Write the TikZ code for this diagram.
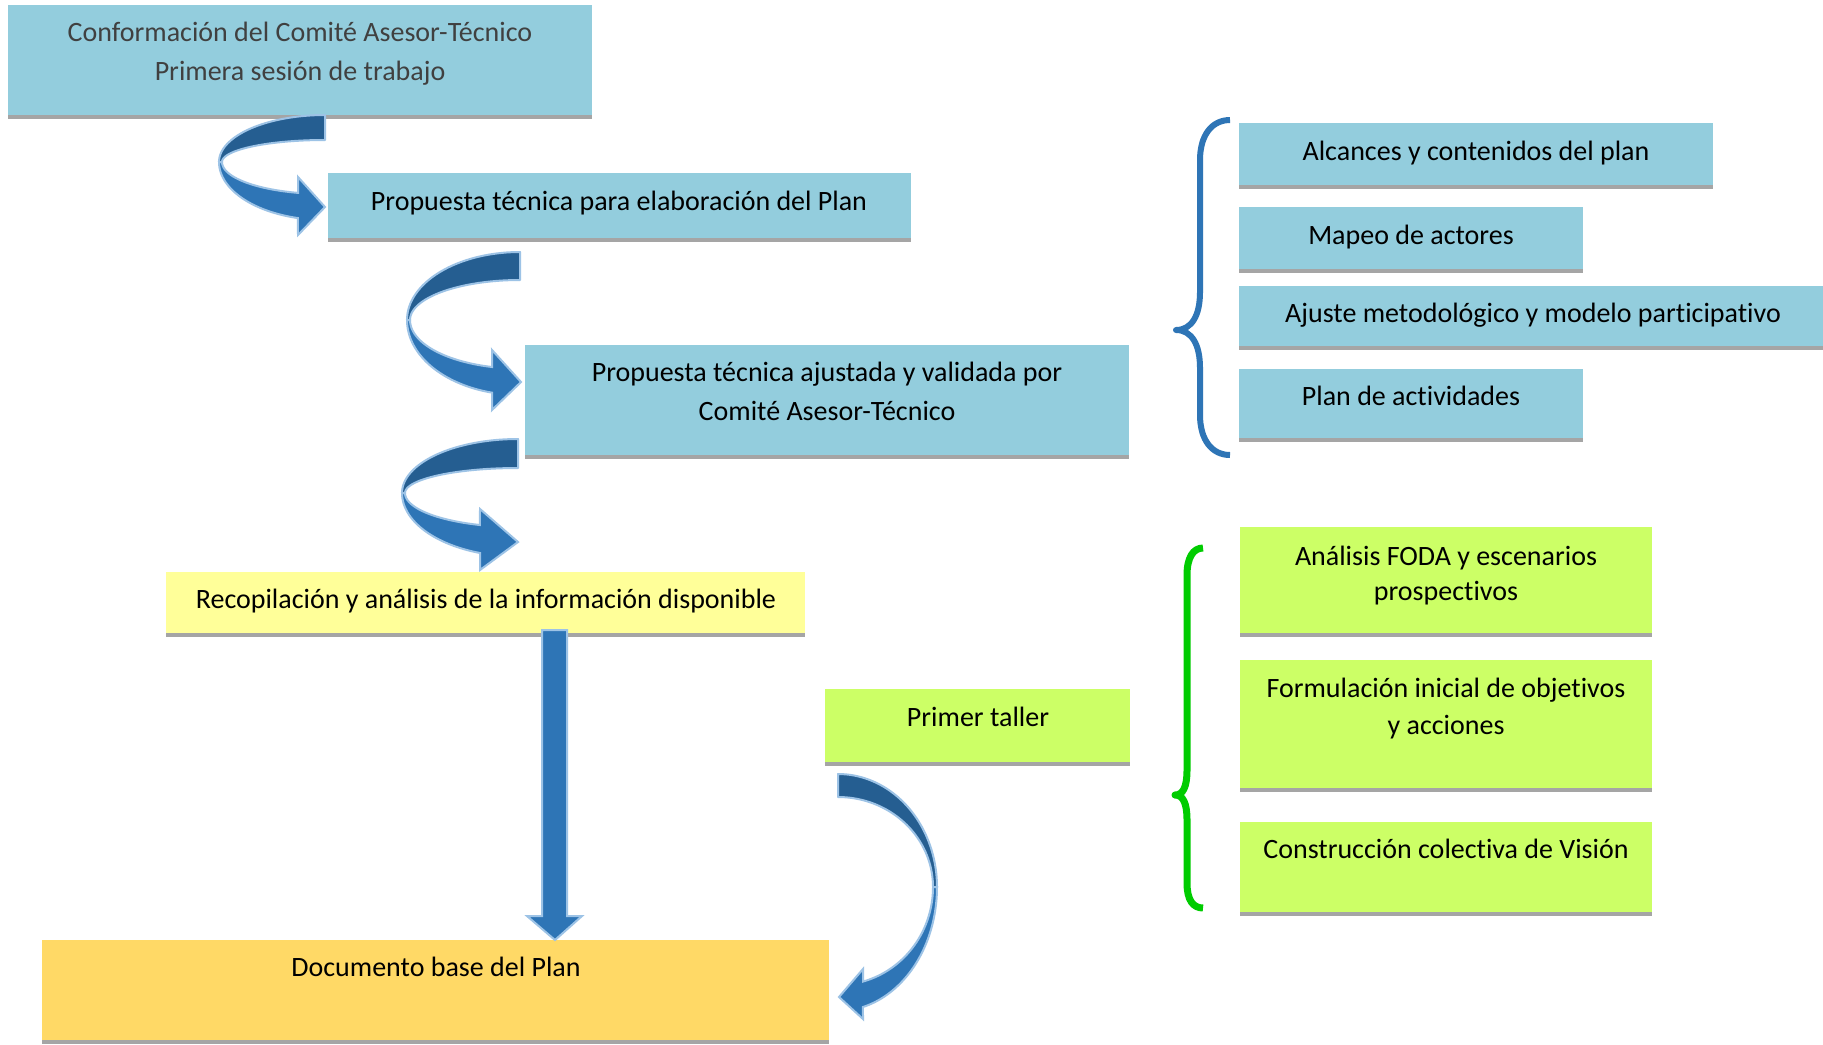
\documentclass[tikz,border=0pt]{standalone}
\usepackage{fontspec}
\setmainfont{Carlito}[Ligatures={NoCommon}]
\definecolor{boxblue}{HTML}{93CDDD}
\definecolor{boxyellow}{HTML}{FFFF99}
\definecolor{boxorange}{HTML}{FFD966}
\definecolor{boxgreen}{HTML}{CCFF66}
\definecolor{barcol}{HTML}{A5A5A5}
\definecolor{arrdark}{HTML}{255E91}
\definecolor{arrlight}{HTML}{2E75B6}
\definecolor{arrline}{HTML}{9DC3E6}
\definecolor{braceblue}{HTML}{2E75B6}
\definecolor{bracegreen}{HTML}{00CC00}
\definecolor{txtgray}{HTML}{404040}
\begin{document}
\begin{tikzpicture}[x=0.5pt,y=-0.5pt,
  box/.style={inner sep=0pt, outer sep=0pt, anchor=north west,
    path picture={\fill[barcol] ([yshift=2.25pt]path picture bounding box.south west) rectangle (path picture bounding box.south east);}},
  txt/.style={inner sep=0pt, anchor=base, font=\fontsize{14pt}{19pt}\selectfont},
  dpart/.style={fill=arrdark, draw=arrline, line width=1pt, line join=round},
  lpart/.style={fill=arrlight, draw=arrline, line width=1pt, line join=miter},
  bracestyle/.style={line width=3pt, line cap=butt, line join=round}
]
\useasboundingbox (0,0) rectangle (1823,1044);
\fill[white] (0,0) rectangle (1823,1044);

% boxes
\node[box, fill=boxblue, minimum width=292pt, minimum height=57pt] (b1) at (8,5) {};
\node[box, fill=boxblue, minimum width=291.5pt, minimum height=34.5pt] (b2) at (328,173) {};
\node[box, fill=boxblue, minimum width=302pt, minimum height=57pt] (b3) at (525,345) {};
\node[box, fill=boxyellow, minimum width=319.5pt, minimum height=32.5pt] (b4) at (166,572) {};
\node[box, fill=boxorange, minimum width=393.5pt, minimum height=52pt] (b5) at (42,940) {};
\node[box, fill=boxgreen, minimum width=152.5pt, minimum height=38.5pt] (b6) at (825,689) {};
\node[box, fill=boxblue, minimum width=237pt, minimum height=33pt] (r1) at (1239,123) {};
\node[box, fill=boxblue, minimum width=172pt, minimum height=33pt] (r2) at (1239,207) {};
\node[box, fill=boxblue, minimum width=294pt, minimum height=32pt] (r3) at (1239,286) {};
\node[box, fill=boxblue, minimum width=172pt, minimum height=36.5pt] (r4) at (1239,369) {};
\node[box, fill=boxgreen, minimum width=206pt, minimum height=55pt] (g1) at (1240,527) {};
\node[box, fill=boxgreen, minimum width=206pt, minimum height=66pt] (g2) at (1240,660) {};
\node[box, fill=boxgreen, minimum width=206pt, minimum height=47pt] (g3) at (1240,822) {};

% texts
\node[txt, text=txtgray] (t1a) at (300,41) {Conformación del Comité Asesor-Técnico};
\node[txt, text=txtgray] (t1b) at (300,80) {Primera sesión de trabajo};
\node[txt] (t2) at (619,210) {Propuesta técnica para elaboración del Plan};
\node[txt] (t3a) at (827,381) {Propuesta técnica ajustada y validada por};
\node[txt] (t3b) at (827,420) {Comité Asesor-Técnico};
\node[txt] (t4) at (486,608) {Recopilación y análisis de la información disponible};
\node[txt] (t5) at (436,976) {Documento base del Plan};
\node[txt] (t6) at (978,726) {Primer taller};
\node[txt] (tr1) at (1476,160) {Alcances y contenidos del plan};
\node[txt] (tr2) at (1411,244) {Mapeo de actores};
\node[txt] (tr3) at (1533,322) {Ajuste metodológico y modelo participativo};
\node[txt] (tr4) at (1411,405) {Plan de actividades};
\node[txt] (tg1a) at (1446,565) {Análisis FODA y escenarios};
\node[txt] (tg1b) at (1446,600) {prospectivos};
\node[txt] (tg2a) at (1446,697) {Formulación inicial de objetivos};
\node[txt] (tg2b) at (1446,734) {y acciones};
\node[txt] (tg3) at (1446,858) {Construcción colectiva de Visión};

% curved arrow 1 (b1 -> b2)
\filldraw[dpart] plot[domain=270:180,samples=40] ({325+106*cos(\x)},{162+47*sin(\x)})
  -- plot[domain=180:270,samples=40] ({325+103*cos(\x)},{162+22*sin(\x)}) -- cycle;
\filldraw[lpart] plot[domain=180:104.8,samples=40] ({325+106*cos(\x)},{162+58*sin(\x)})
  -- (298,235) -- (325,207) -- (298,177)
  -- plot[domain=105.2:180,samples=40] ({325+103*cos(\x)},{162+32*sin(\x)}) -- cycle;

% curved arrow 2 (b2 -> b3)
\filldraw[dpart] plot[domain=270:180,samples=40] ({520+113*cos(\x)},{320+68*sin(\x)})
  -- plot[domain=180:270,samples=40] ({520+110*cos(\x)},{320+40*sin(\x)}) -- cycle;
\filldraw[lpart] plot[domain=180:104.3,samples=40] ({520+113*cos(\x)},{320+75*sin(\x)})
  -- (492,410) -- (521,382) -- (492,350)
  -- plot[domain=104.7:180,samples=40] ({520+110*cos(\x)},{320+48.6*sin(\x)}) -- cycle;

% curved arrow 3 (b3 -> b4)
\filldraw[dpart] plot[domain=270:180,samples=40] ({518+116*cos(\x)},{493+54*sin(\x)})
  -- plot[domain=180:270,samples=40] ({518+113*cos(\x)},{493+25*sin(\x)}) -- cycle;
\filldraw[lpart] plot[domain=180:109.1,samples=40] ({518+116*cos(\x)},{493+63.5*sin(\x)})
  -- (480,570) -- (518,542) -- (480,509)
  -- plot[domain=109.7:180,samples=40] ({518+113*cos(\x)},{493+34*sin(\x)}) -- cycle;

% curved arrow 4 (b6 -> b5)
\filldraw[dpart] plot[domain=-90:0,samples=40] ({838+99*cos(\x)},{887+113*sin(\x)})
  -- plot[domain=0:-90,samples=40] ({838+95*cos(\x)},{887+90*sin(\x)}) -- cycle;
\filldraw[lpart] plot[domain=0:75.4,samples=40] ({838+99*cos(\x)},{887+124*sin(\x)})
  -- (863,1019) -- (839,997) -- (863,969)
  -- plot[domain=74.7:0,samples=40] ({838+95*cos(\x)},{887+98*sin(\x)}) -- cycle;

% straight arrow (b4 -> b5)
\filldraw[lpart] (542,630) -- (567,630) -- (567,916) -- (582,916) -- (555,942 |- b5.north)
  -- (527,916) -- (542,916) -- cycle;

% braces
\draw[bracestyle, draw=braceblue] (1230,120) .. controls (1212,120) and (1200,135) .. (1200,160)
  -- (1200,292) .. controls (1200,315) and (1192,330) .. (1176,330)
  .. controls (1192,330) and (1200,345) .. (1200,368)
  -- (1200,415) .. controls (1200,440) and (1212,455) .. (1230,455);
\draw[bracestyle, line width=3.5pt, draw=bracegreen] (1203,548) .. controls (1193,548) and (1187,558) .. (1187,575)
  -- (1187,770) .. controls (1187,787) and (1183,795) .. (1175,795)
  .. controls (1183,795) and (1187,803) .. (1187,820)
  -- (1187,883) .. controls (1187,900) and (1193,908) .. (1203,908);
\end{tikzpicture}
\end{document}
